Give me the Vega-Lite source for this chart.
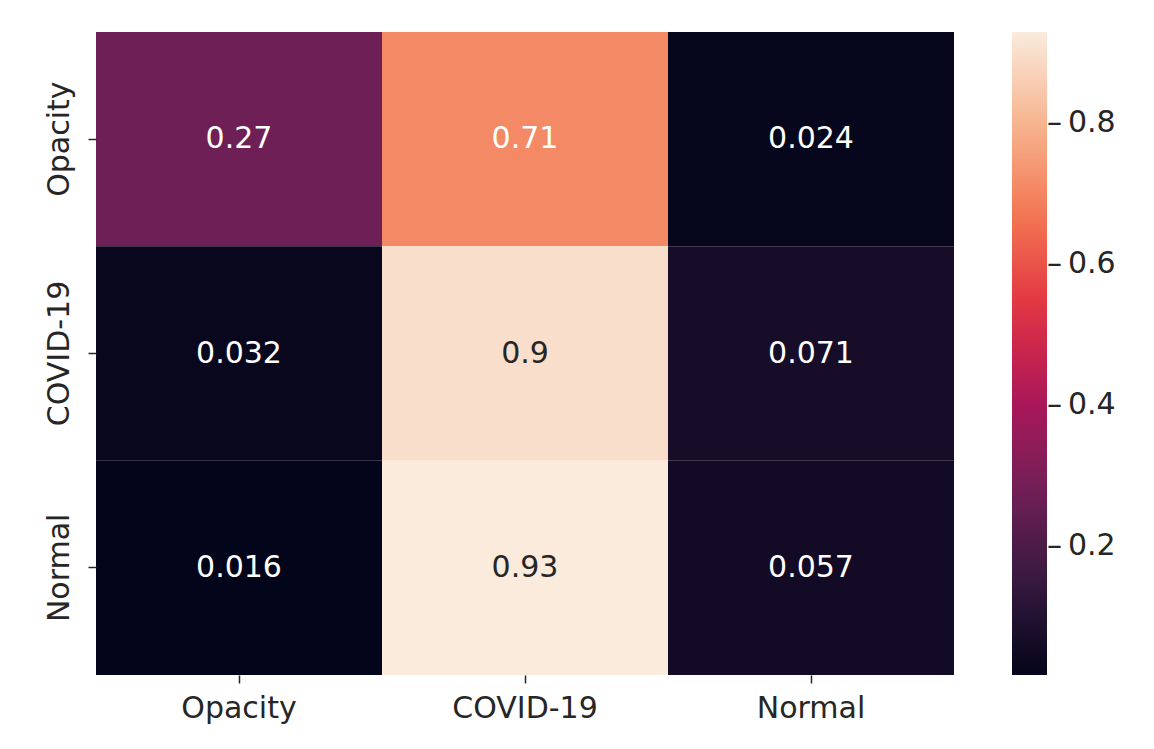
{
  "$schema": "https://vega.github.io/schema/vega-lite/v6.json",
  "autosize": "none",
  "padding": {"left": 96, "top": 32, "right": 200, "bottom": 74},
  "width": 858,
  "height": 643,
  "background": "white",
  "config": {
    "font": "DejaVu Sans",
    "view": {"stroke": null}
  },
  "data": {
    "values": [
      {"actual": "Opacity", "predicted": "Opacity", "value": 0.27},
      {"actual": "Opacity", "predicted": "COVID-19", "value": 0.71},
      {"actual": "Opacity", "predicted": "Normal", "value": 0.024},
      {"actual": "COVID-19", "predicted": "Opacity", "value": 0.032},
      {"actual": "COVID-19", "predicted": "COVID-19", "value": 0.9},
      {"actual": "COVID-19", "predicted": "Normal", "value": 0.071},
      {"actual": "Normal", "predicted": "Opacity", "value": 0.016},
      {"actual": "Normal", "predicted": "COVID-19", "value": 0.93},
      {"actual": "Normal", "predicted": "Normal", "value": 0.057}
    ]
  },
  "encoding": {
    "x": {
      "field": "predicted",
      "type": "nominal",
      "sort": ["Opacity", "COVID-19", "Normal"],
      "scale": {"paddingInner": 0, "paddingOuter": 0},
      "axis": {
        "title": null,
        "labelAngle": 0,
        "labelFontSize": 30,
        "labelColor": "#262626",
        "labelPadding": 10,
        "domain": false,
        "tickColor": "#262626",
        "tickWidth": 1.5,
        "tickSize": 8
      }
    },
    "y": {
      "field": "actual",
      "type": "nominal",
      "sort": ["Opacity", "COVID-19", "Normal"],
      "scale": {"paddingInner": 0, "paddingOuter": 0},
      "axis": {
        "title": null,
        "labelAngle": 270,
        "labelFontSize": 30,
        "labelColor": "#262626",
        "labelPadding": 14,
        "domain": false,
        "tickColor": "#262626",
        "tickWidth": 1.5,
        "tickSize": 8
      }
    }
  },
  "layer": [
    {
      "mark": {"type": "rect"},
      "encoding": {
        "color": {
          "field": "value",
          "type": "quantitative",
          "scale": {
            "domain": [0.016, 0.146571, 0.277143, 0.407714, 0.538286, 0.668857, 0.799429, 0.93],
            "range": ["#03051a", "#35193e", "#701f57", "#ad1759", "#e13342", "#f37651", "#f6b48f", "#faebdd"],
            "interpolate": "rgb"
          },
          "legend": {
            "title": null,
            "direction": "vertical",
            "gradientLength": 643,
            "gradientThickness": 35,
            "gradientStrokeWidth": 0,
            "values": [0.2, 0.4, 0.6, 0.8],
            "labelExpr": "'\u2013\u2009' + datum.label",
            "labelFontSize": 30,
            "labelColor": "#262626",
            "labelOffset": 0,
            "labelOverlap": false,
            "offset": 58,
            "padding": 0
          }
        }
      }
    },
    {
      "mark": {"type": "text", "fontSize": 30, "baseline": "middle", "align": "center"},
      "encoding": {
        "text": {"field": "value", "type": "quantitative", "format": ".2~g"},
        "color": {
          "condition": {"test": "datum.value > 0.8", "value": "#262626"},
          "value": "#ffffff"
        }
      }
    }
  ]
}
